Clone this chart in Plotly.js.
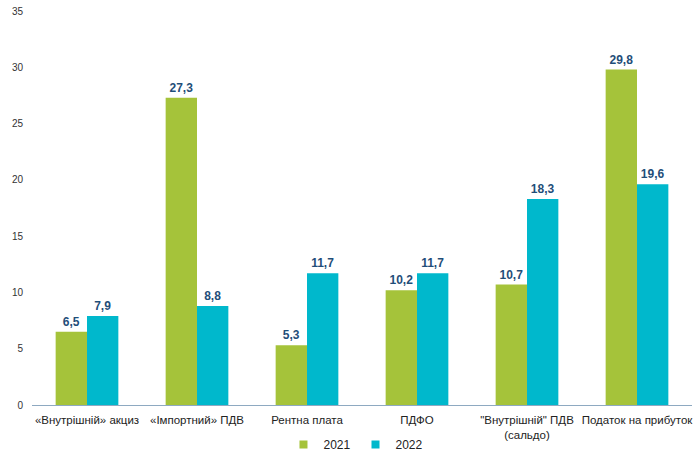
<!DOCTYPE html>
<html><head><meta charset="utf-8">
<script src="https://cdn.plot.ly/plotly-3.0.1.min.js"></script>
<style>html,body{margin:0;padding:0;background:#fff}</style>
</head><body>
<div id="chart" style="width:698px;height:459px"></div>
<script>
const categories = ["«Внутрішній» акциз", "«Імпортний» ПДВ", "Рентна плата", "ПДФО", "\"Внутрішній\" ПДВ<br>(сальдо)", "Податок на прибуток"];
const seriesNames = ["2021", "2022"];
const values2021 = [6.5, 27.3, 5.3, 10.2, 10.7, 29.8];
const values2022 = [7.9, 8.8, 11.7, 11.7, 18.3, 19.6];
const yTicks = [0, 5, 10, 15, 20, 25, 30, 35];
const colors = ["#A5C33A", "#00B8CC"];

const labelFont = {family: "Liberation Sans, Arial, sans-serif", size: 12, color: "#1F4E79", weight: "bold"};
const fmt = v => v.toFixed(1).replace(".", ",");
const traces = [
  {type: "bar", name: seriesNames[0], x: categories, y: values2021, marker: {color: colors[0]},
   text: values2021.map(fmt), textposition: "outside", cliponaxis: false,
   textfont: labelFont, hoverinfo: "none", showlegend: false},
  {type: "bar", name: seriesNames[1], x: categories, y: values2022, marker: {color: colors[1]},
   text: values2022.map(fmt), textposition: "outside", cliponaxis: false,
   textfont: labelFont, hoverinfo: "none", showlegend: false},
  {type: "scatter", mode: "markers", name: seriesNames[0], x: [categories[0]], y: [null],
   marker: {symbol: "square", size: 8, color: colors[0]}, hoverinfo: "none"},
  {type: "scatter", mode: "markers", name: seriesNames[1], x: [categories[0]], y: [null],
   marker: {symbol: "square", size: 8, color: colors[1]}, hoverinfo: "none"}
];
const layout = {
  width: 698, height: 459,
  margin: {l: 32, r: 6, t: 11, b: 54},
  paper_bgcolor: "#fff", plot_bgcolor: "#fff",
  barmode: "group", bargap: 0.43, bargroupgap: 0,
  font: {family: "Liberation Sans, Arial, sans-serif", size: 11, color: "#333"},
  xaxis: {showgrid: false, showline: true, linecolor: "#8EA9C1", linewidth: 1, ticks: "",
          tickfont: {size: 11.5, color: "#222"}, ticklabelstandoff: 4, automargin: false},
  yaxis: {range: [0, 35], tickvals: yTicks, showgrid: false, zeroline: false, showline: false,
          ticks: "", tickfont: {size: 10, color: "#333"}, ticklabelstandoff: 8, automargin: false},
  legend: {orientation: "h", x: 0.51, xref: "container", xanchor: "center", y: -0.022, yref: "container", yanchor: "bottom",
           font: {size: 12, color: "#222"}, itemwidth: 30, traceorder: "normal", tracegroupgap: 0},
  showlegend: true
};
Plotly.newPlot("chart", traces, layout, {displayModeBar: false, staticPlot: true});
</script>
</body></html>
